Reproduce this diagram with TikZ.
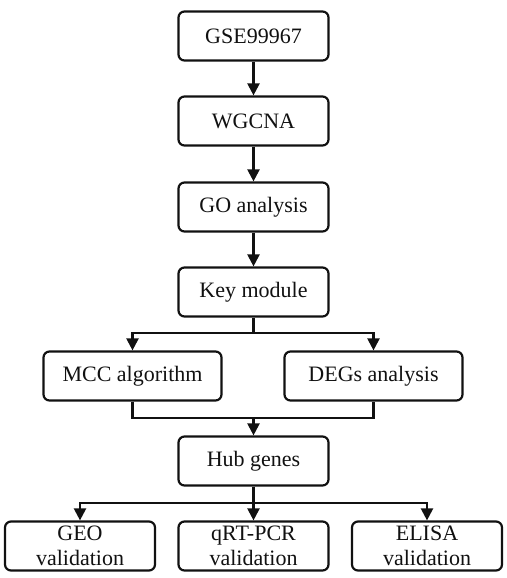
\documentclass[tikz,border=0pt]{standalone}
\usepackage{fontspec}
\setmainfont{Liberation Serif}
\usepackage{xcolor}
\usepackage{tikz}
\usetikzlibrary{arrows.meta, positioning, calc}
\definecolor{inkblack}{HTML}{111111}
\tikzset{
  arr/.style={-{Triangle[length=12pt,width=12pt]}, line width=2.2pt, inkblack},
  link/.style={line width=2.2pt, inkblack},
  flowbox/.style={rectangle, rounded corners=6pt, draw=inkblack, line width=2.2pt, fill=white,
    minimum width=150pt, minimum height=49pt, inner sep=0pt, align=center, text=inkblack,
    font=\fontsize{22}{25}\selectfont},
  sidebox/.style={flowbox, minimum width=178pt},
}

\begin{document}
\begin{tikzpicture}[x=1pt, y=-1pt]
    \useasboundingbox (0,0) rectangle (506,578);
    % main column
    \node[flowbox] (gse)   at (253.5,36)  {GSE99967};
    \node[flowbox] (wgcna) at (253.5,121) {WGCNA};
    \node[flowbox] (go)    at (253.5,207) {GO analysis};
    \node[flowbox] (key)   at (253.5,292) {Key module};
    \node[sidebox] (mcc)   at (132.5,376) {MCC algorithm};
    \node[sidebox] (degs)  at (373.5,376) {DEGs analysis};
    \node[flowbox] (hub)   at (253.5,461) {Hub genes};
    % validation row
    \node[flowbox] (geo)   at (80,546)    {GEO\\validation};
    \node[flowbox] (qpcr)  at (253.5,546) {qRT-PCR\\validation};
    \node[flowbox] (elisa) at (427,546)   {ELISA\\validation};

    \coordinate (split1) at (253.5,333);
    \coordinate (merge)  at (253.5,418);
    \coordinate (split2) at (253.5,503);

    \draw[arr] (gse) -- (wgcna);
    \draw[arr] (wgcna) -- (go);
    \draw[arr] (go) -- (key);

    \draw[link] (key) -- (split1);
    \draw[arr] (split1) -| (mcc);
    \draw[arr] (split1) -| (degs);

    \draw[link] (mcc) |- (merge) -| (degs);
    \draw[arr] (merge) -- (hub);

    \draw[link] (hub) -- (split2);
    \draw[arr] (split2) -| (geo);
    \draw[arr] (split2) -- (qpcr);
    \draw[arr] (split2) -| (elisa);
  \end{tikzpicture}
\end{document}
